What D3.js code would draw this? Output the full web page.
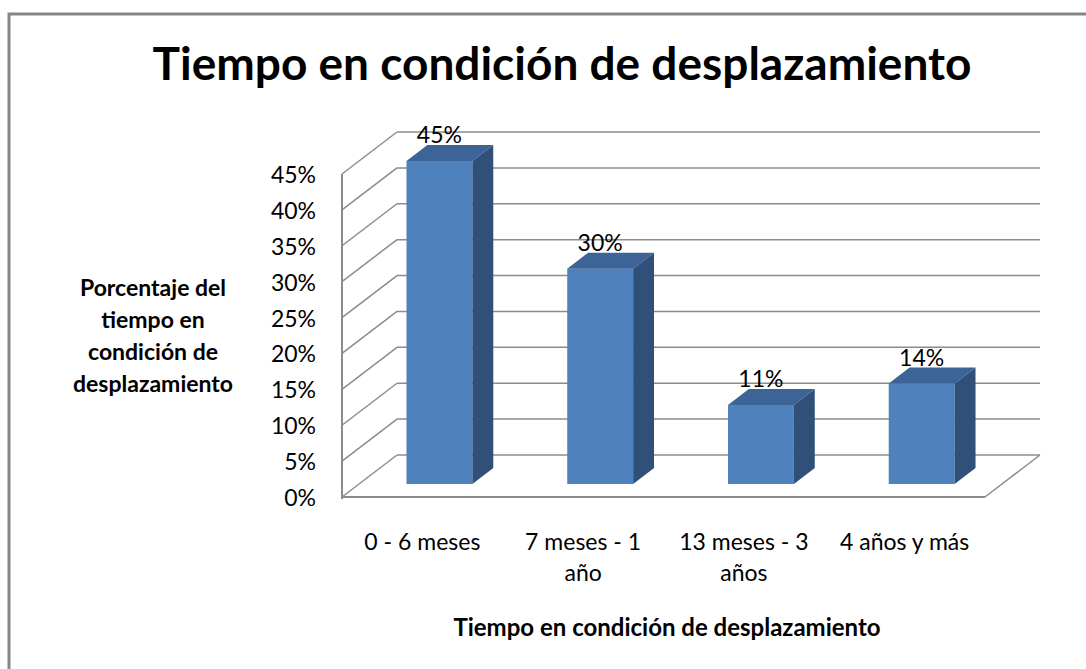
<!DOCTYPE html>
<html>
<head>
<meta charset="utf-8">
<script src="https://cdn.jsdelivr.net/npm/d3@7"></script>
<style>
  body { margin: 0; background: #fff; }
  svg text { font-family: Lato, "Open Sans", sans-serif; fill: #000; }
</style>
</head>
<body>
<div id="chart"></div>
<script>
// data
var categories = ["0 - 6 meses", "7 meses - 1|año", "13 meses - 3|años", "4 años y más"];
var values = [0.45, 0.30, 0.11, 0.14];
var valueLabels = ["45%", "30%", "11%", "14%"];
var yTicks = [0, 0.05, 0.10, 0.15, 0.20, 0.25, 0.30, 0.35, 0.40, 0.45];

var W = 1086, H = 669;
var svg = d3.select("#chart").append("svg").attr("width", W).attr("height", H);

// outer frame (only top/left visible)
svg.append("rect").attr("x", 9).attr("y", 14).attr("width", 1200).attr("height", 800)
  .attr("fill", "none").attr("stroke", "#868686").attr("stroke-width", 3);

// front plane geometry
var plotLeft = 342, plotRight = 985, plotBottom = 497, plotTop = 174;
var depth = {dx: 55, dy: -42};

var x = d3.scaleBand().domain(d3.range(categories.length)).range([plotLeft, plotRight]).paddingInner(0.59).paddingOuter(0.295);
var y = d3.scaleLinear().domain([0, 0.45]).range([plotBottom, plotTop]);

var g = svg.append("g");
var gridColor = "#8c8c8c";

// back wall gridlines
g.selectAll(".grid").data(yTicks).enter().append("line")
  .attr("x1", plotLeft + depth.dx).attr("x2", plotRight + depth.dx)
  .attr("y1", d => y(d) + depth.dy).attr("y2", d => y(d) + depth.dy)
  .attr("stroke", gridColor).attr("stroke-width", 1.5);

// side wall diagonals
g.selectAll(".diag").data(yTicks).enter().append("line")
  .attr("x1", plotLeft).attr("y1", d => y(d))
  .attr("x2", plotLeft + depth.dx).attr("y2", d => y(d) + depth.dy)
  .attr("stroke", gridColor).attr("stroke-width", 1.5);

// front axis line
g.append("line").attr("x1", plotLeft).attr("x2", plotLeft).attr("y1", y(0.45)).attr("y2", plotBottom + 2)
  .attr("stroke", gridColor).attr("stroke-width", 2);
// floor front and right edges
g.append("line").attr("x1", plotLeft).attr("x2", plotRight).attr("y1", plotBottom).attr("y2", plotBottom)
  .attr("stroke", gridColor).attr("stroke-width", 2);
g.append("line").attr("x1", plotRight).attr("y1", plotBottom).attr("x2", plotRight + depth.dx).attr("y2", plotBottom + depth.dy)
  .attr("stroke", gridColor).attr("stroke-width", 1.5);

// bars sit in middle of depth
var f0 = 0.31, f1 = 0.69;
var ox = depth.dx * f0, oy = depth.dy * f0;
var bdx = depth.dx * (f1 - f0), bdy = depth.dy * (f1 - f0);

var bars = g.selectAll(".bar").data(values).enter().append("g");
bars.append("rect")
  .attr("x", (d, i) => x(i) + ox).attr("y", d => y(d) + oy)
  .attr("width", x.bandwidth()).attr("height", d => y(0) - y(d))
  .attr("fill", "#4f81bd");
bars.append("path")
  .attr("d", (d, i) => {
    var x0 = x(i) + ox, x1 = x0 + x.bandwidth(), yt = y(d) + oy;
    return "M" + x0 + "," + yt + "L" + (x0 + bdx) + "," + (yt + bdy) + "L" + (x1 + bdx) + "," + (yt + bdy) + "L" + x1 + "," + yt + "Z";
  })
  .attr("fill", "#3c6496");
bars.append("path")
  .attr("d", (d, i) => {
    var x1 = x(i) + ox + x.bandwidth(), yt = y(d) + oy, yb = y(0) + oy;
    return "M" + x1 + "," + yt + "L" + (x1 + bdx) + "," + (yt + bdy) + "L" + (x1 + bdx) + "," + (yb + bdy) + "L" + x1 + "," + yb + "Z";
  })
  .attr("fill", "#30507a");

// value labels
g.selectAll(".vlab").data(values).enter().append("text")
  .attr("x", (d, i) => x(i) + ox + x.bandwidth() / 2)
  .attr("y", d => y(d) + depth.dy * f1 - 2)
  .attr("text-anchor", "middle").style("font-size", "23px")
  .text((d, i) => valueLabels[i]);

// y tick labels
g.selectAll(".ytick").data(yTicks).enter().append("text")
  .attr("x", 316).attr("y", d => y(d) + 9)
  .attr("text-anchor", "end").style("font-size", "23px")
  .text(d => Math.round(d * 100) + "%");

// x category labels
g.selectAll(".xlab").data(categories).enter().append("text")
  .attr("text-anchor", "middle").style("font-size", "23px")
  .each(function (d, i) {
    var lines = d.split("|");
    d3.select(this).selectAll("tspan").data(lines).enter().append("tspan")
      .attr("x", x(i) + x.bandwidth() / 2)
      .attr("y", (l, j) => 550 + j * 31)
      .text(l => l);
  });

// titles
svg.append("text").attr("x", 562).attr("y", 80).attr("text-anchor", "middle")
  .style("font-size", "46px").style("font-weight", "bold")
  .text("Tiempo en condición de desplazamiento");

svg.append("text").attr("x", 667).attr("y", 636).attr("text-anchor", "middle")
  .style("font-size", "24px").style("font-weight", "bold")
  .text("Tiempo en condición de desplazamiento");

var yTitle = ["Porcentaje del", "tiempo en", "condición de", "desplazamiento"];
svg.append("text").attr("text-anchor", "middle")
  .style("font-size", "23px").style("font-weight", "bold")
  .selectAll("tspan").data(yTitle).enter().append("tspan")
  .attr("x", 153).attr("y", (d, i) => 296 + i * 32)
  .text(d => d);
</script>
</body>
</html>
